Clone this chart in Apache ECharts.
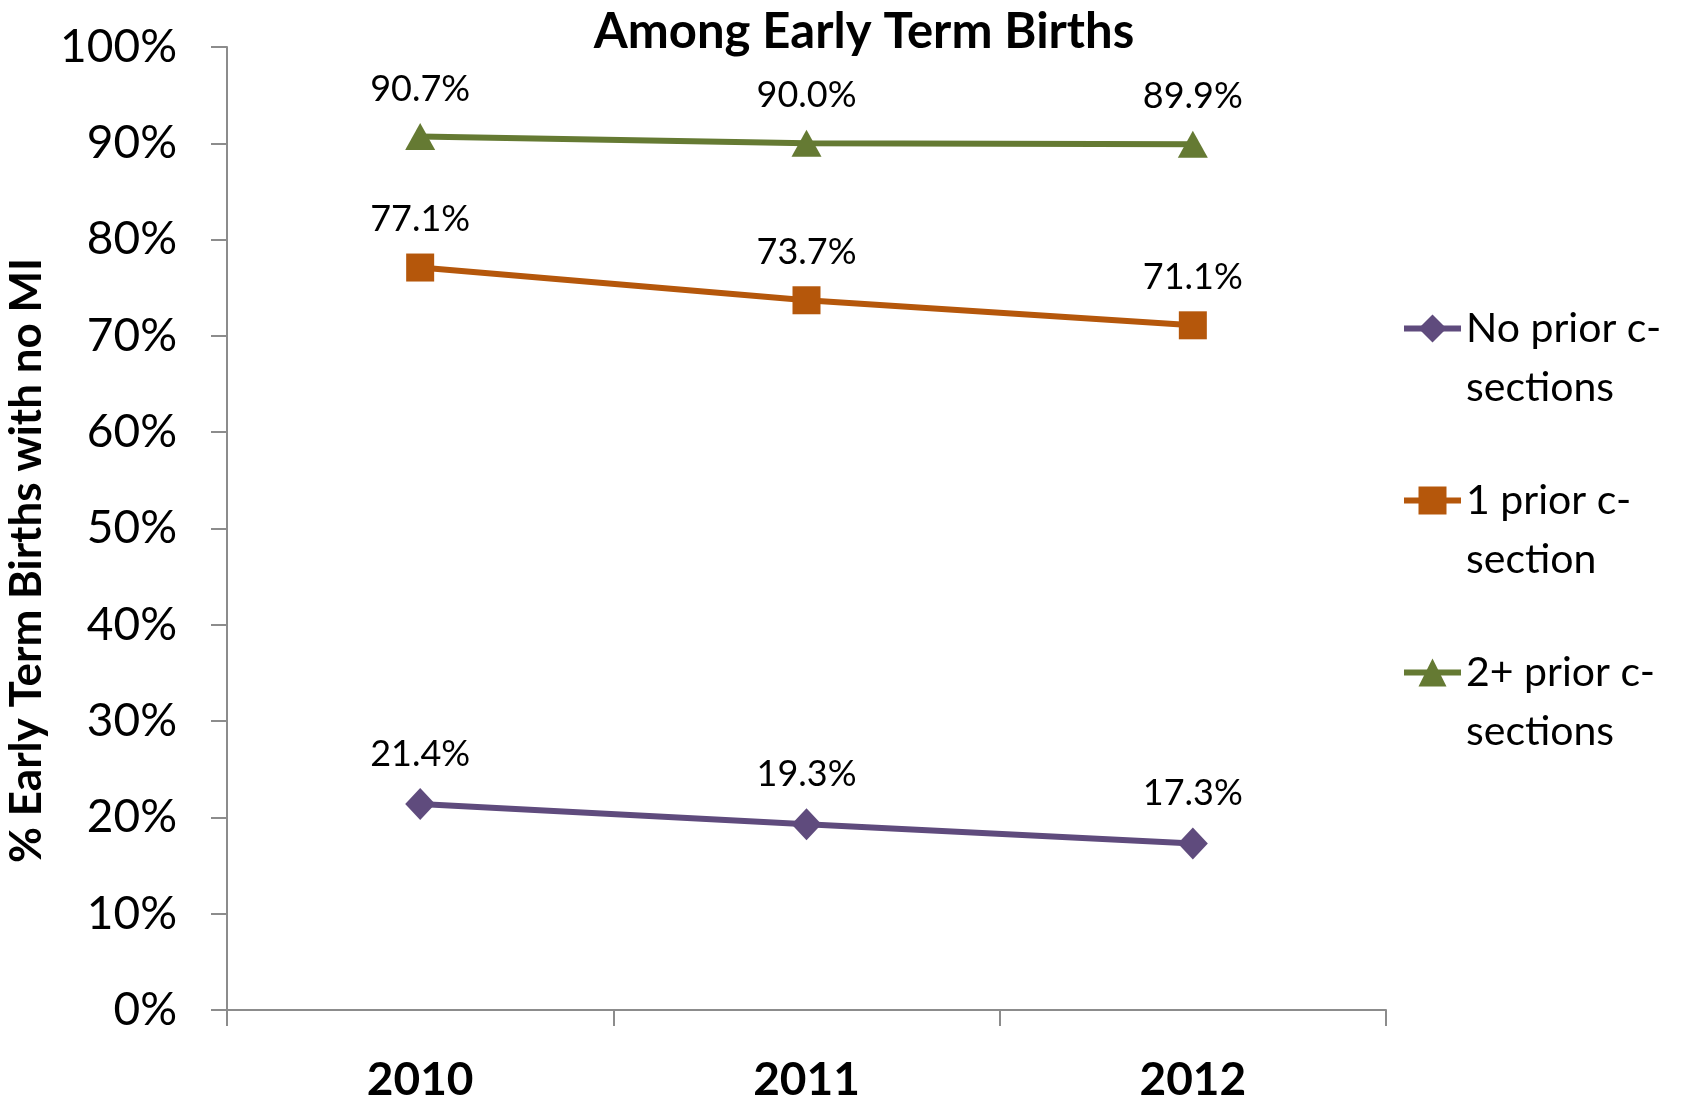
<!DOCTYPE html>
<html>
<head>
<meta charset="utf-8">
<script src="https://cdn.jsdelivr.net/npm/echarts@6/dist/echarts.min.js"></script>
<style>
html,body{margin:0;padding:0;background:#fff;}
#chart{width:1684px;height:1100px;}
</style>
</head>
<body>
<div id="chart"></div>
<script>
const years = ['2010', '2011', '2012'];
const seriesNames = ['No prior c-\nsections', '1 prior c-\nsection', '2+ prior c-\nsections'];
const noPrior = [21.4, 19.3, 17.3];
const onePrior = [77.1, 73.7, 71.1];
const twoPlusPrior = [90.7, 90.0, 89.9];
const yTicks = [0, 10, 20, 30, 40, 50, 60, 70, 80, 90, 100];

const FONT = 'Lato';
const colors = ['#5f4b7d', '#b5570b', '#657a33'];
const symbols = ['diamond', 'rect', 'triangle'];
const symbolSizes = [[30, 32], 28, [30, 27]];
const values = [noPrior, onePrior, twoPlusPrior];

const chart = echarts.init(document.getElementById('chart'), null, {renderer: 'canvas'});
const option = {
  animation: false,
  backgroundColor: '#ffffff',
  title: {
    text: 'Among Early Term Births',
    left: 859, textAlign: 'center', top: 3,
    textStyle: {fontFamily: FONT, fontWeight: 'bold', fontSize: 49, color: '#000'}
  },
  legend: {
    orient: 'vertical',
    left: 1401, top: 240,
    padding: 0,
    itemGap: -5,
    itemWidth: 57, itemHeight: 35,
    data: seriesNames,
    formatter: n => ' \n' + n,
    lineStyle: {width: 6},
    textStyle: {fontFamily: FONT, fontSize: 41, color: '#000', lineHeight: 59}
  },
  grid: {left: 227, right: 298, top: 47, bottom: 90, containLabel: false, outerBoundsMode: 'none'},
  xAxis: {
    type: 'category',
    data: years,
    boundaryGap: true,
    axisLine: {lineStyle: {color: '#8c8c8c', width: 2}},
    axisTick: {show: true, length: 16, lineStyle: {color: '#8c8c8c', width: 2}},
    axisLabel: {fontFamily: FONT, fontWeight: 'bold', fontSize: 46, color: '#000', margin: 47}
  },
  yAxis: {
    type: 'value',
    min: yTicks[0], max: yTicks[yTicks.length - 1], interval: 10,
    name: '% Early Term Births with no MI',
    nameLocation: 'middle',
    nameGap: 178,
    nameTextStyle: {fontFamily: FONT, fontWeight: 'bold', fontSize: 44, color: '#000', padding: [0, 64, 0, 0]},
    axisLine: {show: true, lineStyle: {color: '#8c8c8c', width: 2}},
    axisTick: {show: true, length: 16, lineStyle: {color: '#8c8c8c', width: 2}},
    splitLine: {show: false},
    axisLabel: {fontFamily: FONT, fontSize: 46, color: '#000', margin: 50, formatter: v => v + '%'}
  },
  series: seriesNames.map((n, i) => ({
    name: n,
    type: 'line',
    data: values[i],
    symbol: symbols[i],
    symbolSize: symbolSizes[i],
    color: colors[i],
    lineStyle: {color: colors[i], width: 6},
    itemStyle: {color: colors[i]},
    label: {
      show: true, position: 'top', distance: 16,
      fontFamily: FONT, fontSize: 36, color: '#000',
      formatter: p => p.value.toFixed(1) + '%'
    }
  }))
};
chart.setOption(option);
</script>
</body>
</html>
